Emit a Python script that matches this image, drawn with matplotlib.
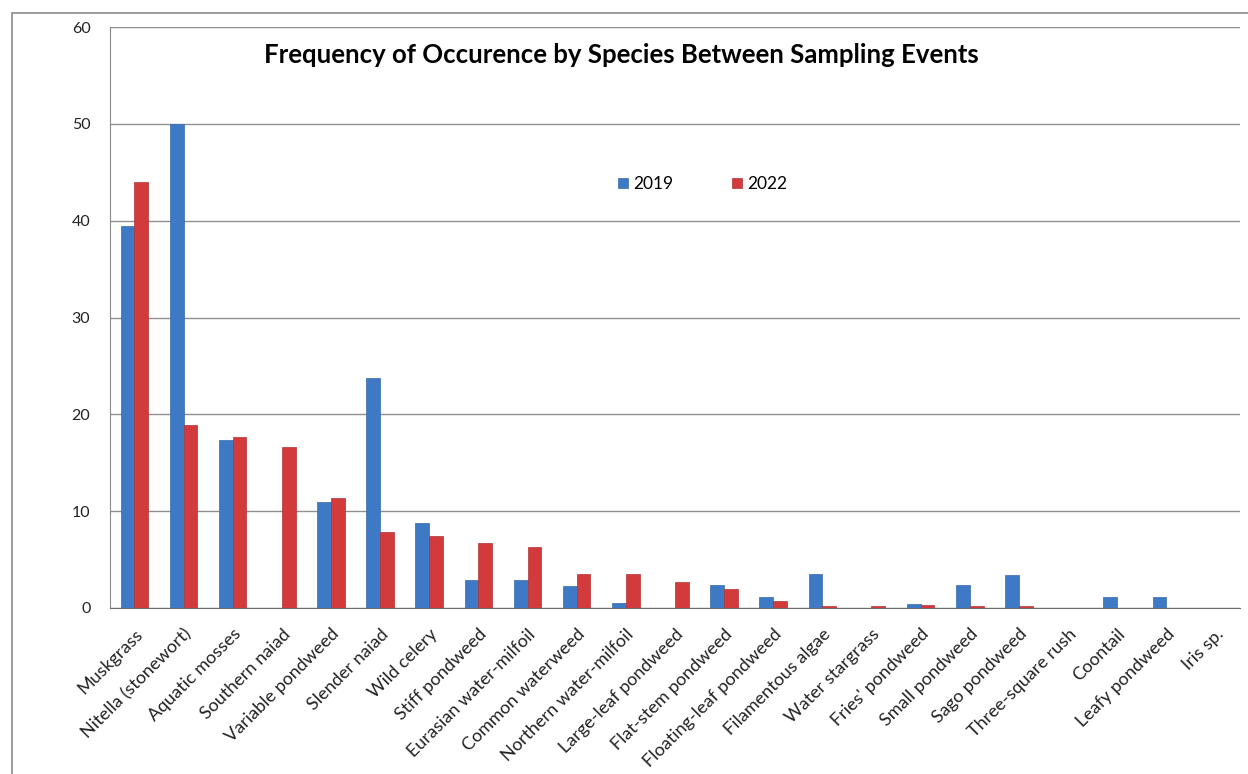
import matplotlib
matplotlib.use('Agg')
import matplotlib.pyplot as plt
import numpy as np
from matplotlib.patches import Rectangle

# data
species = ["Muskgrass", "Nitella (stonewort)", "Aquatic mosses", "Southern naiad",
           "Variable pondweed", "Slender naiad", "Wild celery", "Stiff pondweed",
           "Eurasian water-milfoil", "Common waterweed", "Northern water-milfoil",
           "Large-leaf pondweed", "Flat-stem pondweed", "Floating-leaf pondweed",
           "Filamentous algae", "Water stargrass", "Fries' pondweed", "Small pondweed",
           "Sago pondweed", "Three-square rush", "Coontail", "Leafy pondweed", "Iris sp."]
freq_2019 = [39.5, 50.0, 17.4, 0.0, 10.9, 23.8, 8.8, 2.9, 2.9, 2.3, 0.5, 0.0, 2.4, 1.1,
             3.5, 0.0, 0.4, 2.4, 3.4, 0.0, 1.1, 1.1, 0.0]
freq_2022 = [44.0, 18.9, 17.7, 16.6, 11.4, 7.8, 7.4, 6.7, 6.3, 3.5, 3.5, 2.7, 2.0, 0.7,
             0.2, 0.2, 0.3, 0.2, 0.2, 0.0, 0.0, 0.0, 0.0]
years = ["2019", "2022"]

plt.rcParams['font.family'] = ['Lato', 'DejaVu Sans']

fig = plt.figure(figsize=(12.48, 7.74), dpi=100)
ax = fig.add_axes([0.088, 0.2145, 0.9056, 0.7505])

# grey outer border of the chart frame
fig.patches.append(Rectangle((12 / 1248, -0.01), 1.02, 1 - 13 / 774 + 0.01,
                             transform=fig.transFigure, fill=False,
                             edgecolor="#8c8c8c", linewidth=1.2))

x = np.arange(len(species))
w = 0.28
ax.bar(x - w / 2, freq_2019, w, color="#3d79c4", edgecolor="#356aa8", linewidth=0.5,
       label=years[0], zorder=3)
ax.bar(x + w / 2, freq_2022, w, color="#d23a3c", edgecolor="#b03234", linewidth=0.5,
       label=years[1], zorder=3)

ax.set_xlim(-0.5, len(species) - 0.5)
ax.set_ylim(0, 60)
ax.set_yticks(range(0, 61, 10))
ax.yaxis.grid(True, color="#8f8f8f", linewidth=1.0, zorder=0)
ax.set_axisbelow(True)

for s in ["top", "right"]:
    ax.spines[s].set_visible(False)
ax.spines["left"].set_color("#8a8a8a")
ax.spines["bottom"].set_color("#6e6e6e")

ax.tick_params(axis="y", length=0, pad=14, labelsize=11.5, labelcolor="#222222")
ax.tick_params(axis="x", length=0, pad=13, labelsize=13, labelcolor="#222222")
ax.set_xticks(x)
ax.set_xticklabels(species, rotation=45, ha="right", rotation_mode="anchor")

ax.text(0.453, 0.952, "Frequency of Occurence by Species Between Sampling Events",
        transform=ax.transAxes, ha="center", va="center",
        fontsize=18.5, fontweight="bold")

ax.legend(loc="upper left", bbox_to_anchor=(0.436, 0.77), ncol=2, frameon=False,
          fontsize=12.5, handlelength=0.55, handleheight=0.55, columnspacing=3.4,
          handletextpad=0.3)

fig.savefig("out.png", dpi=100)
plt.close(fig)
